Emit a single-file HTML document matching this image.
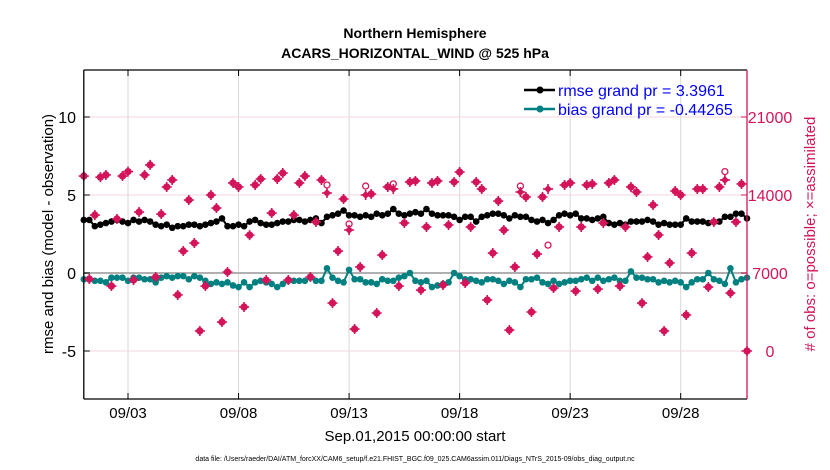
<!DOCTYPE html>
<html><head><meta charset="utf-8"><style>
body{margin:0;background:#fff;width:830px;height:470px;overflow:hidden}
svg{display:block;font-family:"Liberation Sans",sans-serif}
</style></head><body>
<svg id="chart" width="830" height="470">
<g id="grid"></g>
<g id="marks"></g>
<g id="axes"></g>
<text x="415" y="38" text-anchor="middle" font-size="14" font-weight="bold">Northern Hemisphere</text>
<text x="415" y="58" text-anchor="middle" font-size="14" font-weight="bold">ACARS_HORIZONTAL_WIND @ 525 hPa</text>
<text transform="translate(53,234) rotate(-90)" text-anchor="middle" font-size="15">rmse and bias (model - observation)</text>
<text transform="translate(815,234) rotate(-90)" text-anchor="middle" font-size="15" fill="#d4145a"># of obs: o=possible; ×=assimilated</text>
<text x="415" y="441" text-anchor="middle" font-size="15">Sep.01,2015 00:00:00 start</text>
<text x="415" y="461" text-anchor="middle" font-size="7">data file: /Users/raeder/DAI/ATM_forcXX/CAM6_setup/f.e21.FHIST_BGC.f09_025.CAM6assim.011/Diags_NTrS_2015-09/obs_diag_output.nc</text>
<g>
<line x1="524" y1="90" x2="555" y2="90" stroke="#000" stroke-width="2.5"/><circle cx="540" cy="90" r="3.5" fill="#000"/>
<text x="558" y="96" font-size="16" fill="#0000ff">rmse grand pr = 3.3961</text>
<line x1="524" y1="109" x2="555" y2="109" stroke="#008080" stroke-width="2.5"/><circle cx="540" cy="109" r="3.5" fill="#008080"/>
<text x="558" y="115" font-size="16" fill="#0000ff">bias grand pr = -0.44265</text>
</g>
</svg>
<script>
const xTickDays=[2,7,12,17,22,27];
const xTickLabels=["09/03","09/08","09/13","09/18","09/23","09/28"];
const yTicks=[-5,0,5,10];
const rTicks=[0,7000,14000,21000];
const rmse=[3.4,3.4,3.0,3.1,3.2,3.3,3.4,3.3,3.2,3.4,3.3,3.4,3.3,3.1,3.0,3.1,2.9,3.0,3.0,3.1,3.1,3.0,3.1,3.2,3.3,3.5,3.0,3.0,3.1,3.0,3.3,3.4,3.2,3.1,3.1,3.2,3.3,3.3,3.4,3.4,3.3,3.4,3.5,3.2,3.6,3.7,3.8,4.0,3.7,3.7,3.6,3.7,3.6,3.8,3.7,3.8,4.1,3.8,3.7,3.8,3.9,3.8,4.1,3.8,3.7,3.7,3.7,3.6,3.4,3.6,3.6,3.3,3.6,3.7,3.8,3.8,3.7,3.5,3.7,3.6,3.6,3.4,3.3,3.4,3.2,3.4,3.7,3.8,3.7,3.8,3.5,3.5,3.4,3.5,3.6,3.2,3.1,3.2,3.1,3.3,3.3,3.3,3.4,3.3,3.1,3.2,3.1,3.1,3.1,3.5,3.3,3.3,3.3,3.2,3.3,3.3,3.6,3.6,3.8,3.8,3.5];
const bias=[-0.4,-0.4,-0.5,-0.5,-0.6,-0.3,-0.3,-0.3,-0.5,-0.3,-0.3,-0.4,-0.4,-0.6,-0.3,-0.2,-0.3,-0.2,-0.2,-0.4,-0.2,-0.3,-0.5,-0.7,-0.6,-0.7,-0.6,-0.8,-0.9,-0.6,-0.9,-0.6,-0.5,-0.6,-0.7,-0.9,-0.7,-0.5,-0.5,-0.5,-0.5,-0.3,-0.5,-0.5,0.3,-0.3,-0.5,-0.6,0.2,-0.4,-0.4,-0.6,-0.6,-0.7,-0.4,-0.5,-0.5,-0.3,-0.2,0.0,-0.5,-0.6,-0.5,-0.9,-0.8,-0.7,-0.6,0.0,-0.2,-0.4,-0.4,-0.5,-0.6,-0.4,-0.4,-0.5,-0.7,-0.5,-0.6,-0.9,-0.4,-0.4,-0.3,-0.6,-0.7,-0.5,-0.7,-0.6,-0.5,-0.5,-0.4,-0.3,-0.5,-0.3,-0.5,-0.4,-0.3,-0.5,-0.5,0.1,-0.3,-0.3,-0.4,-0.4,-0.6,-0.5,-0.6,-0.5,-0.6,-0.9,-0.6,-0.4,-0.4,0.0,-0.4,-0.5,-0.7,0.3,-0.6,-0.4,-0.3];
const assimilated=[15700,6460,12200,15600,15800,5830,11850,15700,16100,6370,12470,15800,16700,6640,12290,14720,15350,5030,8970,13550,9690,1800,5830,14000,12830,2600,7090,15080,14720,3950,10400,14900,15440,6370,12380,15440,15970,6370,12200,15080,15700,6640,11580,15350,14180,4300,8970,13640,10860,1970,7540,14000,14090,3410,8610,14720,14540,5830,11490,15170,15260,5470,11130,15080,15260,5920,11310,15170,16060,6100,11130,15170,14540,4580,8790,13460,10860,1880,7540,14270,13820,3500,8700,13820,14540,5650,11130,14900,15080,5380,11130,14900,14990,5560,11490,15080,15350,5830,11130,14720,14270,4300,8440,13100,10410,1800,7900,14360,14000,3230,8790,14540,14540,5740,11580,14720,15350,5200,11580,14990,0];
const possible=assimilated.map(function(v,i){return ({44:14900,48:11400,51:14800,56:15000,79:14800,84:9500,116:16100}[i])||v;});
const X0=83.8,X1=747,Y0=70,Y1=399;
function xs(d){return X0+(d/30)*(X1-X0);}
function ys(v){return 273-v*15.6;}
function rs(n){return ys(n/1400-5);}
const NS="http://www.w3.org/2000/svg";
function mk(tag,attrs,parent){const e=document.createElementNS(NS,tag);for(const k in attrs)e.setAttribute(k,attrs[k]);parent.appendChild(e);return e;}
const grid=document.getElementById('grid'),marks=document.getElementById('marks'),axes=document.getElementById('axes');
xTickDays.forEach(function(d,i){
 const g=mk('line',{x1:xs(d),x2:xs(d),y1:Y0,y2:Y1,stroke:'#d8d8d8','stroke-width':1},grid);
 
 
 mk('line',{x1:xs(d),x2:xs(d),y1:Y1,y2:Y1-6,stroke:'#000'},axes);
 mk('line',{x1:xs(d),x2:xs(d),y1:Y0,y2:Y0+6,stroke:'#000'},axes);
 const t=mk('text',{x:xs(d),y:418,'text-anchor':'middle','font-size':15},axes);
 t.textContent=xTickLabels[i];
 
 
});
rTicks.forEach(function(n){
 const g=mk('line',{x1:X0,x2:X1,y1:rs(n),y2:rs(n),stroke:'#f3d6e0','stroke-width':1},grid);
 
 
 mk('line',{x1:X1,x2:X1-6,y1:rs(n),y2:rs(n),stroke:'#d4145a'},axes);
 const t=mk('text',{x:770,y:rs(n)+6,'text-anchor':'middle','font-size':16,fill:'#d4145a'},axes);
 t.textContent=n;
 
 
});
yTicks.forEach(function(v){
 mk('line',{x1:X0,x2:X0+6,y1:ys(v),y2:ys(v),stroke:'#000'},axes);
 const t=mk('text',{x:76,y:ys(v)+6,'text-anchor':'end','font-size':16},axes);
 t.textContent=v;
 
 
});
const zl=mk('line',{x1:X0,x2:X1,y1:ys(0),y2:ys(0),stroke:'#b0b0b0','stroke-width':2},grid);


function series(vals,color,name){
 const g=mk('g',{},marks);
 
 
 mk('polyline',{points:vals.map(function(v,i){return xs(i*0.25)+','+ys(v);}).join(' '),fill:'none',stroke:color,'stroke-width':2},g);
 vals.forEach(function(v,i){mk('circle',{cx:xs(i*0.25),cy:ys(v),r:3.3,fill:color},g);});
}
series(rmse,'#000','rmse-series');
series(bias,'#008080','bias-series');
const og=mk('g',{},marks);


possible.forEach(function(n,i){mk('circle',{cx:xs(i*0.25),cy:rs(n),r:3,fill:'none',stroke:'#d4145a','stroke-width':1.3},og);});
assimilated.forEach(function(n,i){
 const x=xs(i*0.25),y=rs(n);
 mk('path',{d:'M'+(x-5)+' '+y+'L'+(x+5)+' '+y+'M'+x+' '+(y-5)+'L'+x+' '+(y+5),stroke:'#d4145a','stroke-width':1.6},og);
 mk('path',{d:'M'+x+' '+(y-4)+'L'+(x+4)+' '+y+'L'+x+' '+(y+4)+'L'+(x-4)+' '+y+'Z',fill:'#d4145a'},og);
});
mk('rect',{x:X0,y:Y0,width:X1-X0,height:Y1-Y0,fill:'none',stroke:'none'},axes);
mk('line',{x1:X0,x2:X1,y1:Y0,y2:Y0,stroke:'#000','stroke-width':1.3},axes);
mk('line',{x1:X0,x2:X1,y1:Y1,y2:Y1,stroke:'#000','stroke-width':1.3},axes);
mk('line',{x1:X0,x2:X0,y1:Y0,y2:Y1,stroke:'#000','stroke-width':1.3},axes);
mk('line',{x1:X1,x2:X1,y1:Y0,y2:Y1,stroke:'#d4145a','stroke-width':1.3},axes);
</script>
</body></html>
